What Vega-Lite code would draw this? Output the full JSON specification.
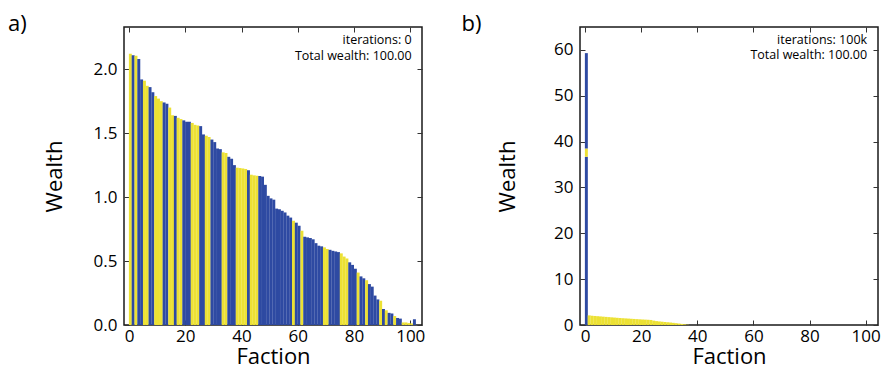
{
  "$schema": "https://vega.github.io/schema/vega-lite/v6.json",
  "padding": {"left": 7, "top": 11, "right": 5, "bottom": 0},
  "background": "white",
  "spacing": 34,
  "datasets": {
    "a": [
      {"faction": 1, "wealth": 2.12, "group": "yellow"},
      {"faction": 2, "wealth": 2.11, "group": "blue"},
      {"faction": 3, "wealth": 2.105, "group": "yellow"},
      {"faction": 4, "wealth": 2.08, "group": "blue"},
      {"faction": 5, "wealth": 1.92, "group": "blue"},
      {"faction": 6, "wealth": 1.91, "group": "yellow"},
      {"faction": 7, "wealth": 1.87, "group": "yellow"},
      {"faction": 8, "wealth": 1.86, "group": "blue"},
      {"faction": 9, "wealth": 1.82, "group": "blue"},
      {"faction": 10, "wealth": 1.79, "group": "yellow"},
      {"faction": 11, "wealth": 1.77, "group": "yellow"},
      {"faction": 12, "wealth": 1.75, "group": "yellow"},
      {"faction": 13, "wealth": 1.74, "group": "blue"},
      {"faction": 14, "wealth": 1.73, "group": "blue"},
      {"faction": 15, "wealth": 1.70, "group": "yellow"},
      {"faction": 16, "wealth": 1.64, "group": "yellow"},
      {"faction": 17, "wealth": 1.635, "group": "blue"},
      {"faction": 18, "wealth": 1.62, "group": "yellow"},
      {"faction": 19, "wealth": 1.61, "group": "yellow"},
      {"faction": 20, "wealth": 1.60, "group": "blue"},
      {"faction": 21, "wealth": 1.59, "group": "blue"},
      {"faction": 22, "wealth": 1.59, "group": "blue"},
      {"faction": 23, "wealth": 1.58, "group": "yellow"},
      {"faction": 24, "wealth": 1.565, "group": "yellow"},
      {"faction": 25, "wealth": 1.56, "group": "yellow"},
      {"faction": 26, "wealth": 1.555, "group": "blue"},
      {"faction": 27, "wealth": 1.49, "group": "blue"},
      {"faction": 28, "wealth": 1.48, "group": "yellow"},
      {"faction": 29, "wealth": 1.47, "group": "yellow"},
      {"faction": 30, "wealth": 1.45, "group": "blue"},
      {"faction": 31, "wealth": 1.43, "group": "blue"},
      {"faction": 32, "wealth": 1.38, "group": "blue"},
      {"faction": 33, "wealth": 1.375, "group": "blue"},
      {"faction": 34, "wealth": 1.35, "group": "yellow"},
      {"faction": 35, "wealth": 1.345, "group": "yellow"},
      {"faction": 36, "wealth": 1.315, "group": "blue"},
      {"faction": 37, "wealth": 1.30, "group": "blue"},
      {"faction": 38, "wealth": 1.25, "group": "blue"},
      {"faction": 39, "wealth": 1.23, "group": "yellow"},
      {"faction": 40, "wealth": 1.227, "group": "yellow"},
      {"faction": 41, "wealth": 1.224, "group": "yellow"},
      {"faction": 42, "wealth": 1.22, "group": "yellow"},
      {"faction": 43, "wealth": 1.21, "group": "blue"},
      {"faction": 44, "wealth": 1.175, "group": "yellow"},
      {"faction": 45, "wealth": 1.17, "group": "yellow"},
      {"faction": 46, "wealth": 1.167, "group": "yellow"},
      {"faction": 47, "wealth": 1.165, "group": "blue"},
      {"faction": 48, "wealth": 1.16, "group": "blue"},
      {"faction": 49, "wealth": 1.096, "group": "blue"},
      {"faction": 50, "wealth": 1.01, "group": "blue"},
      {"faction": 51, "wealth": 0.99, "group": "blue"},
      {"faction": 52, "wealth": 0.98, "group": "blue"},
      {"faction": 53, "wealth": 0.91, "group": "blue"},
      {"faction": 54, "wealth": 0.905, "group": "blue"},
      {"faction": 55, "wealth": 0.893, "group": "blue"},
      {"faction": 56, "wealth": 0.88, "group": "blue"},
      {"faction": 57, "wealth": 0.855, "group": "blue"},
      {"faction": 58, "wealth": 0.84, "group": "blue"},
      {"faction": 59, "wealth": 0.815, "group": "yellow"},
      {"faction": 60, "wealth": 0.80, "group": "blue"},
      {"faction": 61, "wealth": 0.776, "group": "blue"},
      {"faction": 62, "wealth": 0.737, "group": "yellow"},
      {"faction": 63, "wealth": 0.69, "group": "blue"},
      {"faction": 64, "wealth": 0.685, "group": "blue"},
      {"faction": 65, "wealth": 0.68, "group": "blue"},
      {"faction": 66, "wealth": 0.67, "group": "blue"},
      {"faction": 67, "wealth": 0.64, "group": "blue"},
      {"faction": 68, "wealth": 0.62, "group": "blue"},
      {"faction": 69, "wealth": 0.615, "group": "blue"},
      {"faction": 70, "wealth": 0.607, "group": "yellow"},
      {"faction": 71, "wealth": 0.594, "group": "yellow"},
      {"faction": 72, "wealth": 0.588, "group": "blue"},
      {"faction": 73, "wealth": 0.58, "group": "blue"},
      {"faction": 74, "wealth": 0.575, "group": "blue"},
      {"faction": 75, "wealth": 0.57, "group": "blue"},
      {"faction": 76, "wealth": 0.56, "group": "yellow"},
      {"faction": 77, "wealth": 0.535, "group": "yellow"},
      {"faction": 78, "wealth": 0.52, "group": "yellow"},
      {"faction": 79, "wealth": 0.49, "group": "blue"},
      {"faction": 80, "wealth": 0.47, "group": "blue"},
      {"faction": 81, "wealth": 0.44, "group": "blue"},
      {"faction": 82, "wealth": 0.41, "group": "yellow"},
      {"faction": 83, "wealth": 0.38, "group": "blue"},
      {"faction": 84, "wealth": 0.365, "group": "blue"},
      {"faction": 85, "wealth": 0.35, "group": "yellow"},
      {"faction": 86, "wealth": 0.32, "group": "blue"},
      {"faction": 87, "wealth": 0.30, "group": "blue"},
      {"faction": 88, "wealth": 0.23, "group": "blue"},
      {"faction": 89, "wealth": 0.20, "group": "blue"},
      {"faction": 90, "wealth": 0.19, "group": "yellow"},
      {"faction": 91, "wealth": 0.125, "group": "blue"},
      {"faction": 92, "wealth": 0.115, "group": "yellow"},
      {"faction": 93, "wealth": 0.095, "group": "blue"},
      {"faction": 94, "wealth": 0.09, "group": "blue"},
      {"faction": 95, "wealth": 0.07, "group": "yellow"},
      {"faction": 96, "wealth": 0.055, "group": "blue"},
      {"faction": 97, "wealth": 0.05, "group": "blue"},
      {"faction": 98, "wealth": 0.02, "group": "yellow"},
      {"faction": 99, "wealth": 0.02, "group": "yellow"},
      {"faction": 100, "wealth": 0.015, "group": "yellow"},
      {"faction": 101, "wealth": 0.012, "group": "yellow"},
      {"faction": 102, "wealth": 0.045, "group": "blue"}
    ],
    "b": [
      {"faction": 1, "wealth": 36.7, "group": "blue", "seg": 1},
      {"faction": 1, "wealth": 1.8, "group": "yellow", "seg": 2},
      {"faction": 1, "wealth": 20.8, "group": "blue", "seg": 3},
      {"faction": 2, "wealth": 2.10, "group": "yellow", "seg": 1},
      {"faction": 3, "wealth": 2.02, "group": "yellow", "seg": 1},
      {"faction": 4, "wealth": 1.97, "group": "yellow", "seg": 1},
      {"faction": 5, "wealth": 1.92, "group": "yellow", "seg": 1},
      {"faction": 6, "wealth": 1.87, "group": "yellow", "seg": 1},
      {"faction": 7, "wealth": 1.82, "group": "yellow", "seg": 1},
      {"faction": 8, "wealth": 1.77, "group": "yellow", "seg": 1},
      {"faction": 9, "wealth": 1.72, "group": "yellow", "seg": 1},
      {"faction": 10, "wealth": 1.67, "group": "yellow", "seg": 1},
      {"faction": 11, "wealth": 1.62, "group": "yellow", "seg": 1},
      {"faction": 12, "wealth": 1.57, "group": "yellow", "seg": 1},
      {"faction": 13, "wealth": 1.52, "group": "yellow", "seg": 1},
      {"faction": 14, "wealth": 1.48, "group": "yellow", "seg": 1},
      {"faction": 15, "wealth": 1.44, "group": "yellow", "seg": 1},
      {"faction": 16, "wealth": 1.40, "group": "yellow", "seg": 1},
      {"faction": 17, "wealth": 1.36, "group": "yellow", "seg": 1},
      {"faction": 18, "wealth": 1.32, "group": "yellow", "seg": 1},
      {"faction": 19, "wealth": 1.28, "group": "yellow", "seg": 1},
      {"faction": 20, "wealth": 1.24, "group": "yellow", "seg": 1},
      {"faction": 21, "wealth": 1.20, "group": "yellow", "seg": 1},
      {"faction": 22, "wealth": 1.17, "group": "yellow", "seg": 1},
      {"faction": 23, "wealth": 1.14, "group": "yellow", "seg": 1},
      {"faction": 24, "wealth": 1.10, "group": "yellow", "seg": 1},
      {"faction": 25, "wealth": 0.95, "group": "yellow", "seg": 1},
      {"faction": 26, "wealth": 0.85, "group": "yellow", "seg": 1},
      {"faction": 27, "wealth": 0.78, "group": "yellow", "seg": 1},
      {"faction": 28, "wealth": 0.72, "group": "yellow", "seg": 1},
      {"faction": 29, "wealth": 0.66, "group": "yellow", "seg": 1},
      {"faction": 30, "wealth": 0.60, "group": "yellow", "seg": 1},
      {"faction": 31, "wealth": 0.54, "group": "yellow", "seg": 1},
      {"faction": 32, "wealth": 0.47, "group": "yellow", "seg": 1},
      {"faction": 33, "wealth": 0.40, "group": "yellow", "seg": 1},
      {"faction": 34, "wealth": 0.32, "group": "yellow", "seg": 1},
      {"faction": 35, "wealth": 0.24, "group": "yellow", "seg": 1},
      {"faction": 36, "wealth": 0.15, "group": "yellow", "seg": 1},
      {"faction": 37, "wealth": 0.06, "group": "yellow", "seg": 1}
    ]
  },
  "hconcat": [
    {
      "width": 298,
      "height": 298,
      "title": {"text": "a)", "dx": -35, "offset": -9},
      "resolve": {"axis": {"x": "independent", "y": "independent"}},
      "layer": [
        {
          "data": {"name": "a"},
          "mark": {"type": "bar", "width": 2.95, "xOffset": -1.455},
          "encoding": {
            "x": {"field": "faction", "type": "quantitative", "scale": {"domain": [0, 102.4], "nice": false, "zero": false},
                  "axis": {"values": [0, 20, 40, 60, 80, 100], "title": "Faction", "titlePadding": 2, "labelPadding": 8}},
            "y": {"field": "wealth", "type": "quantitative", "scale": {"domain": [0, 2.33], "nice": false},
                  "axis": {"values": [0, 0.5, 1, 1.5, 2], "format": ".1f", "title": "Wealth", "labelPadding": 12, "titlePadding": 27}},
            "color": {"field": "group", "type": "nominal", "scale": {"domain": ["blue", "yellow"], "range": ["#2E4AA2", "#ECE134"]}, "legend": null}
          }
        },
        {
          "data": {"values": [{"panel": "a"}]},
          "mark": {"type": "text", "align": "right", "baseline": "middle", "font": "Open Sans", "fontSize": 12.5, "lineHeight": 15.5, "color": "#000",
                   "text": ["iterations: 0", "Total wealth: 100.00"]},
          "encoding": {
            "x": {"datum": 100.5, "type": "quantitative", "scale": {"domain": [0, 102.4], "nice": false, "zero": false},
                  "axis": {"orient": "top", "labels": false, "title": null, "values": [0, 20, 40, 60, 80, 100]}},
            "y": {"datum": 2.225, "type": "quantitative", "scale": {"domain": [0, 2.33], "nice": false},
                  "axis": {"orient": "right", "labels": false, "title": null, "values": [0, 0.5, 1, 1.5, 2]}}
          }
        }
      ]
    },
    {
      "width": 298,
      "height": 298,
      "title": {"text": "b)", "dx": -35, "offset": -9},
      "resolve": {"axis": {"x": "independent", "y": "independent"}},
      "layer": [
        {
          "data": {"name": "b"},
          "mark": {"type": "bar", "width": 2.95, "xOffset": -1.45},
          "encoding": {
            "x": {"field": "faction", "type": "quantitative", "scale": {"domain": [0, 102.6], "nice": false, "zero": false},
                  "axis": {"values": [0, 20, 40, 60, 80, 100], "title": "Faction", "titlePadding": 2, "labelPadding": 8}},
            "y": {"field": "wealth", "type": "quantitative", "stack": "zero", "scale": {"domain": [0, 65], "nice": false},
                  "axis": {"values": [0, 10, 20, 30, 40, 50, 60], "title": "Wealth", "labelPadding": 12, "titlePadding": 34}},
            "order": {"field": "seg", "type": "quantitative"},
            "color": {"field": "group", "type": "nominal", "scale": {"domain": ["blue", "yellow"], "range": ["#2E4AA2", "#ECE134"]}, "legend": null}
          }
        },
        {
          "data": {"values": [{"panel": "b"}]},
          "mark": {"type": "text", "align": "right", "baseline": "middle", "font": "Open Sans", "fontSize": 12.5, "lineHeight": 15.5, "color": "#000",
                   "text": ["iterations: 100k", "Total wealth: 100.00"]},
          "encoding": {
            "x": {"datum": 100.5, "type": "quantitative", "scale": {"domain": [0, 102.6], "nice": false, "zero": false},
                  "axis": {"orient": "top", "labels": false, "title": null, "values": [0, 20, 40, 60, 80, 100]}},
            "y": {"datum": 62.2, "type": "quantitative", "scale": {"domain": [0, 65], "nice": false},
                  "axis": {"orient": "right", "labels": false, "title": null, "values": [0, 10, 20, 30, 40, 50, 60]}}
          }
        }
      ]
    }
  ],
  "config": {
    "view": {"stroke": "#1a1a1a", "strokeWidth": 1.5},
    "axis": {"labelFont": "Open Sans", "titleFont": "Open Sans", "labelFontSize": 17, "titleFontSize": 22,
             "titleFontWeight": "normal", "labelColor": "#000", "titleColor": "#000", "domain": false, "grid": false,
             "tickColor": "#333", "tickSize": -5, "tickWidth": 1, "labelFlush": false, "labelOverlap": false},
    "title": {"font": "Open Sans", "fontSize": 22, "fontWeight": "normal", "anchor": "start", "frame": "bounds", "color": "#000"}
  }
}
